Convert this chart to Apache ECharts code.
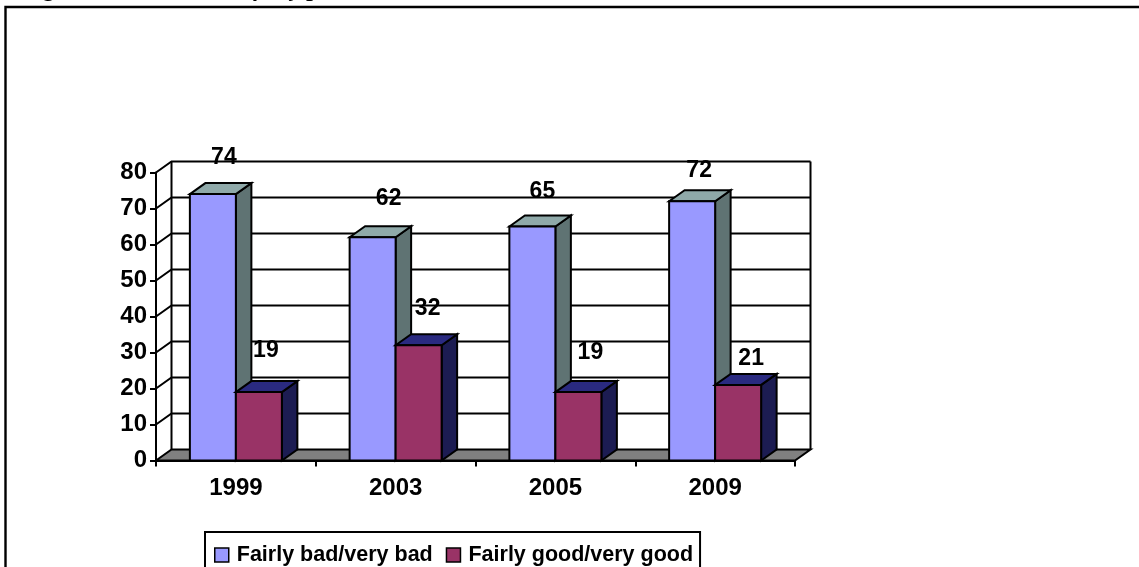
<!DOCTYPE html>
<html><head><meta charset="utf-8">
<style>html,body{margin:0;padding:0;background:#fff;overflow:hidden}#c{width:1139px;height:567px}</style>
<script src="https://cdn.jsdelivr.net/npm/echarts@6/dist/echarts.min.js"></script>
</head><body><div id="c"></div>
<script>
const heading = "Figure 4: Assessment of city preservation conditions";
const years = ["1999", "2003", "2005", "2009"];
const bad = [74, 62, 65, 72];
const good = [19, 32, 19, 21];
const yTicks = [0, 10, 20, 30, 40, 50, 60, 70, 80];
const badName = "Fairly bad/very bad";
const goodName = "Fairly good/very good";
// label placement relative to the bar's front top corner centre
const badLabelNudge = [[11, -36], [16, -39], [10, -35], [7, -31]];
const goodLabelNudge = [[7, -41], [9, -37], [12, -39], [13, -26]];

const DX = 15.5, DY = -11, BARW = 46;
const FONT = '"Liberation Sans", Arial, sans-serif';
const LW = 2;
const line = {stroke: '#000', lineWidth: LW};

function bar3d(side, front, topC, sideC, nudges) {
  return function (params, api) {
    const i = api.value(0), v = api.value(1);
    const c = api.coord([i, v]), base = api.coord([i, 0]);
    const x0 = side < 0 ? c[0] - BARW : c[0];
    const x1 = x0 + BARW, yT = c[1], yB = base[1];
    const n = nudges[i];
    return {type: 'group', children: [
      {type: 'polygon', shape: {points: [[x1, yT], [x1 + DX, yT + DY], [x1 + DX, yB + DY], [x1, yB]]}, style: Object.assign({fill: sideC}, line)},
      {type: 'polygon', shape: {points: [[x0, yT], [x0 + DX, yT + DY], [x1 + DX, yT + DY], [x1, yT]]}, style: Object.assign({fill: topC}, line)},
      {type: 'rect', shape: {x: x0, y: yT, width: BARW, height: yB - yT}, style: Object.assign({fill: front}, line)},
      {type: 'text', z2: 50, style: {text: String(v), x: (x0 + x1) / 2 + n[0], y: yT + n[1], align: 'center', verticalAlign: 'middle', fill: '#000', font: 'bold 23px ' + FONT}}
    ]};
  };
}

function wallLine(params, api) {
  const v = api.value(0);
  const left = api.coord([0, v]);
  const band = api.size([1, 0])[0];
  const xL = left[0] - band / 2, xR = xL + band * years.length, y = left[1];
  return {type: 'group', children: [
    {type: 'polyline', shape: {points: [[xL, y], [xL + DX, y + DY], [xR + DX, y + DY]]}, style: {stroke: '#000', lineWidth: LW, fill: null}}
  ]};
}

function floorWalls(params, api) {
  const band = api.size([1, 0])[0];
  const b = api.coord([0, 0]), t = api.coord([0, 80]);
  const xL = b[0] - band / 2, xR = xL + band * years.length;
  return {type: 'group', children: [
    {type: 'polygon', shape: {points: [[xL, b[1]], [xL + DX, b[1] + DY], [xR + DX, b[1] + DY], [xR, b[1]]]}, style: {fill: '#808080', stroke: '#000', lineWidth: LW}},
    {type: 'line', shape: {x1: xL + DX, y1: b[1] + DY, x2: xL + DX, y2: t[1] + DY}, style: {stroke: '#000', lineWidth: LW}},
    {type: 'line', shape: {x1: xR + DX, y1: b[1] + DY, x2: xR + DX, y2: t[1] + DY}, style: {stroke: '#000', lineWidth: LW}}
  ]};
}

const chart = echarts.init(document.getElementById('c'), null, {renderer: 'canvas'});
chart.setOption({
  animation: false,
  backgroundColor: '#fff',
  graphic: [
    {type: 'polyline', z: 0, shape: {points: [[5.5, 567], [5.5, 7], [1139, 7]]}, style: {stroke: '#000', lineWidth: 2.4, fill: null}},
    {type: 'text', z: 0, left: 22, top: -22, style: {text: heading, fill: '#000', font: 'italic bold 24px "Liberation Serif", serif'}}
  ],
  grid: {left: 156, right: 344, top: 172.5, bottom: 106.5},
  legend: {
    left: 205, top: 532, orient: 'horizontal',
    padding: [12, 7, 20, 9], itemGap: 13, itemWidth: 14, itemHeight: 14,
    borderColor: '#000', borderWidth: 2, backgroundColor: '#fff',
    textStyle: {fontFamily: FONT, fontWeight: 'bold', fontSize: 21.5, color: '#000', padding: [0, 0, 0, 3]},
    data: [
      {name: badName, icon: 'rect', itemStyle: {color: '#9999FF', borderColor: '#000', borderWidth: 1.5}},
      {name: goodName, icon: 'rect', itemStyle: {color: '#993366', borderColor: '#000', borderWidth: 1.5}}
    ]
  },
  xAxis: {
    type: 'category', data: years,
    axisLine: {lineStyle: {color: '#000', width: 2}},
    axisTick: {show: true, length: 6, alignWithLabel: false, lineStyle: {color: '#000', width: LW}},
    axisLabel: {margin: 16, color: '#000', fontFamily: FONT, fontWeight: 'bold', fontSize: 24},
    splitLine: {show: false}
  },
  yAxis: {
    type: 'value', min: 0, max: 80, interval: 10,
    axisLine: {show: true, lineStyle: {color: '#000', width: 2}},
    axisTick: {show: true, length: 6, lineStyle: {color: '#000', width: LW}},
    axisLabel: {margin: 9, color: '#000', fontFamily: FONT, fontWeight: 'bold', fontSize: 24},
    splitLine: {show: false}
  },
  series: [
    {type: 'custom', name: 'walls', silent: true, z: 1, clip: false, renderItem: floorWalls, data: [[0]], encode: {x: 0}},
    {type: 'custom', name: 'gridlines', silent: true, z: 1, clip: false, renderItem: wallLine, data: yTicks.slice(1).map(v => [v]), encode: {y: 0}},
    {type: 'custom', name: badName, z: 3, clip: false, itemStyle: {color: '#9999FF'},
     renderItem: bar3d(-1, '#9999FF', '#8fa9a9', '#5f7373', badLabelNudge),
     data: years.map((y, i) => [i, bad[i]]), encode: {x: 0, y: 1}},
    {type: 'custom', name: goodName, z: 4, clip: false, itemStyle: {color: '#993366'},
     renderItem: bar3d(1, '#993366', '#2a2a80', '#1c1c52', goodLabelNudge),
     data: years.map((y, i) => [i, good[i]]), encode: {x: 0, y: 1}}
  ]
});
</script></body></html>
